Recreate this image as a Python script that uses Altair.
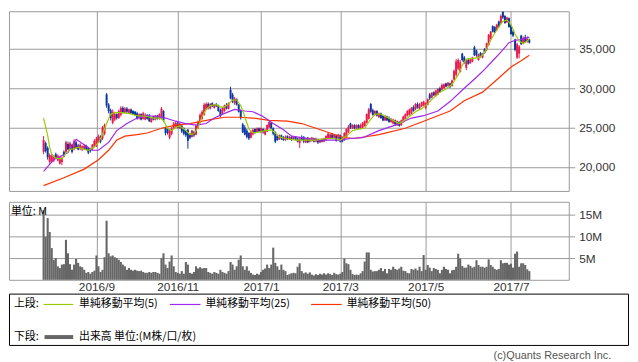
import altair as alt
import pandas as pd

# ---- price data (units of 100 yen), one entry per trading day ----
UNIT = 100
OPEN = [219,230,224,206,207,208,216,208,204,206,219,219,229,223,228,222,231,227,223,222,
        223,227,224,223,222,226,226,231,238,236,242,292,279,272,256,260,267,262,266,275,
        269,274,268,273,271,270,268,262,267,261,260,266,265,257,264,260,265,261,262,271,
        249,248,237,242,249,251,255,249,252,249,246,247,241,238,244,241,249,256,261,266,
        273,280,274,281,275,280,278,272,268,271,279,274,298,292,281,286,279,272,254,250,
        246,243,237,241,248,244,249,244,248,241,245,250,256,249,244,239,235,240,238,234,
        239,235,238,235,238,236,230,238,238,231,237,232,233,236,232,235,231,235,232,234,
        236,236,241,237,240,236,240,237,234,238,244,255,249,253,249,253,249,250,252,256,
        261,280,272,266,271,263,268,265,259,264,262,257,255,259,253,257,253,257,261,265,
        266,268,276,273,280,274,277,278,275,279,292,288,295,290,292,300,298,300,306,303,
        306,303,311,317,325,321,344,339,326,336,332,334,352,348,336,345,339,350,349,355,
        363,379,378,374,385,383,397,392,384,389,380,372,362,339,344,367,357,365,359,362]
HIGH = [239,232,226,217,216,215,218,216,214,213,221,233,232,232,229,235,233,229,230,227,
        229,228,225,224,229,235,238,241,240,252,255,294,281,274,273,270,268,273,277,277,
        276,276,274,274,272,271,270,268,268,270,268,267,267,263,265,266,266,268,276,272,
        251,250,248,251,257,258,257,256,254,250,247,248,243,247,246,254,259,268,272,281,
        282,282,281,282,280,281,279,274,276,279,281,282,302,294,289,287,280,273,256,253,
        248,244,246,249,249,250,250,250,249,248,254,259,257,250,245,241,241,241,239,240,
        240,239,239,239,239,237,237,240,239,237,238,237,238,237,237,236,236,236,237,240,
        244,242,243,242,241,242,241,238,244,249,253,256,254,254,254,254,255,257,259,268,
        275,281,274,272,272,269,269,266,266,265,264,262,261,260,259,258,260,265,268,272,
        274,276,278,281,282,281,283,284,282,287,294,295,296,298,300,302,306,306,307,308,
        307,311,324,337,338,336,345,341,337,338,338,340,354,349,344,346,345,351,358,369,
        373,380,379,382,386,394,398,393,391,390,381,374,363,358,355,368,366,368,366,363]
LOW = [216,218,209,203,205,206,210,207,203,202,212,217,221,222,217,221,223,221,221,220,
       222,221,216,218,221,225,225,230,230,234,240,275,268,259,254,258,260,261,264,268,
       268,268,267,267,266,265,260,260,259,260,259,260,257,256,259,259,260,260,261,257,
       240,241,235,240,248,250,249,248,243,240,238,223,235,237,238,240,248,255,260,265,
       272,273,273,276,274,276,270,263,267,270,273,273,286,281,279,278,269,260,243,240,
       236,234,236,240,242,243,244,243,242,240,244,249,248,240,230,233,234,234,233,233,
       234,234,233,234,234,231,224,233,230,230,230,231,232,231,231,229,230,231,231,233,
       235,235,236,236,232,235,231,231,233,237,243,248,248,248,248,248,248,249,251,255,
       260,268,265,265,264,262,261,258,258,258,256,256,254,252,252,251,252,256,260,264,
       265,267,270,272,274,273,276,277,273,278,285,287,290,289,291,294,297,299,301,302,
       300,302,310,315,323,320,334,331,323,330,331,333,341,340,335,339,338,344,347,354,
       362,371,370,373,377,382,388,382,383,377,368,365,347,337,338,355,356,358,358,357]
CLOSE = [234,220,212,215,214,212,211,214,212,211,213,231,222,230,219,233,224,222,228,226,
         227,222,218,220,228,233,236,239,232,250,253,278,271,262,270,267,262,271,275,269,
         274,270,273,268,267,266,261,267,260,268,266,261,258,262,260,265,261,267,274,259,
         243,243,246,249,255,256,250,255,245,242,240,233,237,246,240,252,257,266,270,279,
         280,275,280,277,279,277,271,265,275,278,274,281,287,283,287,279,270,262,244,241,
         238,236,244,247,243,249,245,249,244,247,253,257,249,242,232,234,240,236,234,238,
         235,238,234,238,235,232,236,234,232,236,231,236,237,232,236,231,235,232,236,239,
         242,241,237,241,233,241,232,232,243,248,251,250,253,249,253,249,253,256,258,267,
         273,270,266,271,265,268,262,259,264,259,257,261,260,254,258,252,259,264,267,271,
         273,275,271,280,275,279,282,283,281,286,287,294,291,297,299,295,304,305,302,307,
         302,310,322,334,336,333,336,333,335,331,337,339,342,342,343,340,344,345,357,368,
         372,372,371,381,378,392,390,383,390,378,369,367,349,356,353,356,364,359,363,358]
# ---- volume, millions of shares ----
VOLUME_M = [16.0,9.9,14.2,11.0,7.3,4.6,5.0,3.1,2.7,3.5,3.6,9.2,6.1,3.6,2.3,3.5,4.8,3.9,3.1,2.9,
            2.3,1.6,1.8,1.4,1.8,2.1,5.6,3.1,1.8,2.3,5.2,13.6,6.1,5.4,5.6,5.2,5.0,4.6,4.1,3.5,
            3.1,2.3,2.7,2.3,2.1,2.3,2.1,2.0,2.1,1.8,1.6,1.6,1.8,1.6,1.8,1.8,1.6,1.4,5.0,6.1,
            3.5,2.7,4.2,5.6,3.1,1.8,1.6,1.4,2.0,1.4,4.1,3.5,1.6,1.4,1.8,3.1,2.6,2.9,2.6,2.7,
            2.7,1.8,1.6,1.4,1.8,1.6,1.4,2.3,1.8,1.6,1.4,2.0,4.1,3.5,2.3,3.1,4.6,5.6,3.1,2.3,
            3.1,2.1,1.6,1.2,1.1,1.4,1.2,1.8,2.3,2.6,3.5,2.7,3.5,7.4,3.9,3.1,2.3,3.5,2.3,2.0,
            1.1,1.3,1.5,1.6,1.5,3.0,3.8,2.0,1.5,1.7,1.4,1.7,1.2,1.0,1.3,1.1,1.4,1.2,1.5,1.2,
            1.5,1.3,1.1,1.6,1.3,1.2,1.4,1.8,4.9,3.8,3.6,2.3,1.3,1.1,1.2,1.1,1.5,2.0,4.2,6.3,
            6.3,2.3,1.9,2.0,2.0,2.3,2.7,2.0,2.5,1.5,2.5,2.3,3.0,2.5,2.3,2.6,3.0,2.1,2.0,1.6,
            1.5,2.5,2.3,2.6,2.2,3.0,2.0,5.7,2.3,3.4,2.8,2.0,2.7,2.5,2.3,1.5,2.3,3.0,2.5,2.3,
            1.5,2.2,2.3,3.0,6.0,4.9,3.2,2.8,2.8,3.5,3.2,2.8,3.0,4.5,3.4,3.0,3.0,2.8,3.0,4.7,
            3.4,3.0,2.5,2.3,2.5,4.5,3.8,3.9,3.9,3.5,3.7,2.8,6.0,6.5,3.0,3.8,3.8,3.4,2.4,2.0]
# ---- moving averages (trading-day index, price /100) ----
MA5_IDX = [0,2,3,4,6,9,11,13,15,17,20,22,25,27,29,31,33,35,38,42,46,51,54,57,59,61,63,65,67,70,
           72,74,76,78,80,82,85,87,89,91,93,95,97,99,101,103,106,109,112,114,116,119,124,129,134,
           139,143,146,149,152,155,158,160,163,166,169,172,175,177,180,183,186,189,192,195,198,
           201,204,206,208,211,214,216,218,220,222,224,226,228,230,232,234,236,238,239]
MA5_VAL = [262,240,225,216,211,210,217,222,223,225,222,221,225,231,241,255,267,269,269,268,265,
           264,262,262,259,249,246,250,252,246,241,242,250,264,273,278,279,276,276,280,285,285,
           278,264,248,243,244,246,247,243,238,236,234,234,234,236,236,234,239,246,248,249,257,
           267,267,263,259,255,258,264,270,274,280,288,295,299,305,317,329,337,338,339,342,350,
           361,370,378,385,387,381,369,360,357,360,363]
MA25_IDX = [0,5,12,15,16,20,24,27,32,36,41,46,51,56,60,65,70,75,80,84,89,94,99,103,108,113,118,
            122,127,134,142,146,151,157,165,173,181,187,194,200,207,213,217,221,225,229,232,235,239]
MA25_VAL = [194,209,218,231,235,228,221,221,231,246,255,262,265,264,262,258,255,253,255,262,268,
            273,271,270,264,255,247,239,237,234,234,234,236,237,246,253,262,265,271,283,300,314,
            324,335,346,358,361,362,365]
MA50_IDX = [0,10,20,27,32,36,40,46,51,58,65,72,82,89,96,103,111,120,127,134,142,148,153,165,178,
            187,200,207,216,224,230,235,239]
MA50_VAL = [176,186,197,209,221,234,239,241,243,249,253,255,260,263,263,262,259,258,255,249,242,
            237,236,241,249,258,271,284,295,313,327,335,342]

MONTH_IDX = [26, 66, 107, 146, 188, 230]
MONTH_LABELS = ["2016/9", "2016/11", "2017/1", "2017/3", "2017/5", "2017/7"]
PRICE_TICKS = [20000, 25000, 30000, 35000]
VOL_TICKS = [5, 10, 15]

# ---- tables ----
n = len(CLOSE)
df = pd.DataFrame({
    "i": list(range(n)),
    "open": [v * UNIT for v in OPEN],
    "high": [v * UNIT for v in HIGH],
    "low": [v * UNIT for v in LOW],
    "close": [v * UNIT for v in CLOSE],
    "vol": VOLUME_M,
})
df["dir"] = ["up" if c >= o else "down" for o, c in zip(df["open"], df["close"])]
ma5 = pd.DataFrame({"i": MA5_IDX, "v": [v * UNIT for v in MA5_VAL]})
ma25 = pd.DataFrame({"i": MA25_IDX, "v": [v * UNIT for v in MA25_VAL]})
ma50 = pd.DataFrame({"i": MA50_IDX, "v": [v * UNIT for v in MA50_VAL]})

FONT = "Liberation Sans"
JP = "Noto Sans CJK JP"
GRID = "#999999"
TXT = "#333333"
UP, DOWN = "#eb194b", "#0a37a0"
C5, C25, C50 = "#99cc00", "#a028f0", "#ff3300"

W = 567
xscale = alt.Scale(domain=[-14.6, 256.0], nice=False, zero=False)
label_expr = " : ".join(f"datum.value == {i} ? '{l}'" for i, l in zip(MONTH_IDX, MONTH_LABELS)) + " : ''"

x_top = alt.X("i:Q", scale=xscale, axis=alt.Axis(values=MONTH_IDX, grid=True, gridColor=GRID,
              labels=False, ticks=False, domain=False, title=None))
pscale = alt.Scale(domain=[16920, 39800], nice=False, zero=False)
paxis = alt.Axis(orient="right", values=PRICE_TICKS, labelExpr="format(datum.value, ',')", grid=True,
                 gridColor=GRID, tickColor=GRID, tickSize=6, domain=False, labelFont=FONT,
                 labelFontSize=12, labelColor=TXT, labelPadding=4, title=None)
color = alt.Color("dir:N", scale=alt.Scale(domain=["up", "down"], range=[UP, DOWN]), legend=None)

base = alt.Chart(df)
wick = base.mark_rule(strokeWidth=1).encode(
    x=x_top, y=alt.Y("low:Q", scale=pscale, axis=paxis), y2="high:Q", color=color)
body = base.mark_bar(size=2).encode(
    x=x_top, y=alt.Y("open:Q", scale=pscale, axis=paxis), y2="close:Q", color=color)

def ma_line(d, c):
    return alt.Chart(d).mark_line(strokeWidth=1.2, color=c).encode(
        x=x_top, y=alt.Y("v:Q", scale=pscale, axis=paxis))

price = alt.layer(wick, body, ma_line(ma50, C50), ma_line(ma25, C25), ma_line(ma5, C5)
                  ).properties(width=W, height=182)

# ---- volume panel ----
x_bot = alt.X("i:Q", scale=xscale, axis=alt.Axis(values=MONTH_IDX, grid=True, gridColor=GRID,
              labelExpr=label_expr, ticks=False, domain=False, labelFont=FONT, labelFontSize=12,
              labelColor=TXT, labelPadding=2, title=None))
vbars = alt.Chart(df).mark_bar(size=2.1, color="#666666").encode(
    x=x_bot,
    y=alt.Y("vol:Q", scale=alt.Scale(domain=[0, 17.95], nice=False),
            axis=alt.Axis(orient="right", values=VOL_TICKS, labelExpr="datum.value + 'M'", grid=True,
                          gridColor=GRID, tickColor=GRID, tickSize=6, domain=False, labelFont=FONT,
                          labelFontSize=12, labelColor=TXT, labelPadding=4, title=None)))
one = pd.DataFrame({"k": [0]})

def ltext(t, x, y, **kw):
    return alt.Chart(one).mark_text(text=t, align=kw.pop("align", "left"), baseline="middle",
                                    font=kw.pop("font", JP), fontSize=11,
                                    color=kw.pop("color", "#000000"), **kw).encode(
        x=alt.value(x), y=alt.value(y))

def lrule(x1, x2, y, c, w=1.2):
    return alt.Chart(one).mark_rule(color=c, strokeWidth=w).encode(
        x=alt.value(x1), x2=alt.value(x2), y=alt.value(y))

# legend box drawn below the volume panel (panel-local pixel offsets)
LT = 93          # top of the legend box
R1, R2 = LT + 11, LT + 44
legend_box = alt.Chart(one).mark_rect(filled=False, stroke="#000000", strokeWidth=1).encode(
    x=alt.value(0.5), x2=alt.value(627.5), y=alt.value(LT + 0.5), y2=alt.value(LT + 52.5))

volume = alt.layer(
    vbars,
    ltext("単位: M", 2, 10),
    legend_box,
    ltext("上段:", 5, R1),
    lrule(35, 65, R1, C5), ltext("単純移動平均(5)", 71, R1),
    lrule(163, 194, R1, C25), ltext("単純移動平均(25)", 199, R1),
    lrule(306, 337, R1, C50), ltext("単純移動平均(50)", 342, R1),
    ltext("下段:", 5, R2),
    lrule(36, 65, R2, "#666666", 4), ltext("出来高 単位:(M株/口/枚)", 71, R2),
    ltext("(c)Quants Research Inc.", 610, LT + 63, align="right", color="#555555", font=FONT),
).properties(width=W, height=79)

chart = alt.vconcat(price, volume, spacing=11, bounds="flush").properties(
    padding=0, background="white").configure_view(stroke=GRID, strokeWidth=1)

chart.save("out.html", embed_options={"renderer": "svg", "actions": False})
